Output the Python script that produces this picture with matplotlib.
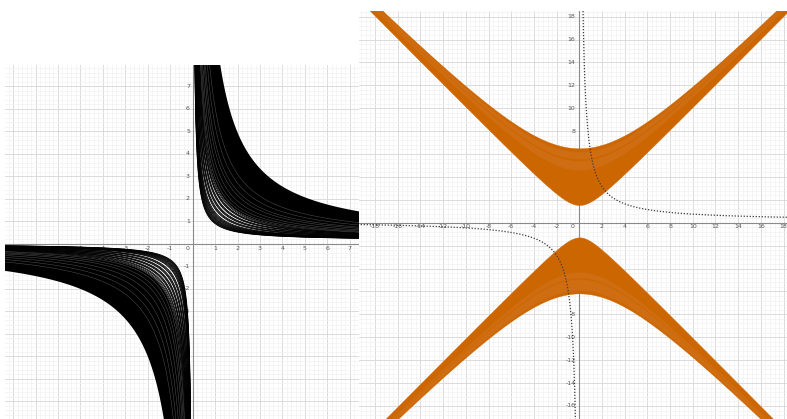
import numpy as np
import matplotlib.pyplot as plt
from matplotlib.ticker import MultipleLocator

W, H = 787, 419
fig = plt.figure(figsize=(W / 100, H / 100), dpi=100)

# ---------------- left graph: family y = k/x + shift ----------------
pos_strands = [0.75, 0.78, 0.81, 0.84, 0.88, 0.92, 0.96, 1.00, 1.05, 1.10, 1.15,
               1.20, 1.26, 1.40, 1.46, 1.52, 1.66, 1.72, 1.78, 1.94, 2.00,
               2.06, 2.22, 2.28, 2.34, 2.46, 2.55]
pos_solid = (2.6, 9.6)
pos_shades = [2.8, 3.1, 3.5, 4.0, 4.4, 5.1, 5.9]
pos_shift = 0.15

neg_strands = [0.70, 0.73, 0.76, 0.79, 0.83, 0.87, 0.91, 0.95, 1.00, 1.05, 1.10,
               1.24, 1.30, 1.36, 1.50, 1.56, 1.62, 1.77, 1.83, 1.89, 2.04, 2.10,
               2.16, 2.30, 2.38, 2.50, 2.60]
neg_solid = (2.65, 10.0)
neg_shades = [2.9, 3.3, 3.7, 4.3, 5.0, 5.8, 6.7]
neg_shift = 0.0

left_xticks = [-8, -7, -6, -5, -4, -3, -2, -1, 1, 2, 3, 4, 5, 6, 7]
left_yticks = [-7, -6, -5, -4, -3, -2, -1, 1, 2, 3, 4, 5, 6, 7]

# ---------------- right graph: y = ±sqrt(x^2 + b^2) bands ----------------
upper_band = (1.55, 6.5)
upper_light = [(4.6, 5.42), (5.58, 6.2)]
lower_band = (1.28, 6.17)
lower_light = [(4.3, 4.8), (4.92, 5.9)]
dotted_k = 6.0
dotted_shift = 0.15

right_xticks = [-18, -16, -14, -12, -10, -8, -6, -4, -2, 2, 4, 6, 8, 10, 12, 14, 16, 18]
right_yticks = [-16, -14, -12, -10, -8, -6, -4, -2, 2, 4, 6, 8, 10, 12, 14, 16, 18]

ORANGE = '#cc6600'
ORANGE_LIGHT = '#cf6d12'
LABEL = '#555555'
AXIS = '#8a8a8a'


def make_panel(px_l, px_t, px_r, px_b, xlim, ylim, major, minor):
    ax = fig.add_axes([px_l / W, 1 - px_b / H, (px_r - px_l) / W, (px_b - px_t) / H])
    ax.set_xlim(*xlim)
    ax.set_ylim(*ylim)
    for axis in (ax.xaxis, ax.yaxis):
        axis.set_major_locator(MultipleLocator(major))
        axis.set_minor_locator(MultipleLocator(minor))
    ax.grid(which='major', color='#d6d6d6', lw=0.6, zorder=0)
    ax.grid(which='minor', color='#f0f0f0', lw=0.45, zorder=0)
    ax.set_axisbelow(True)
    ax.tick_params(which='both', length=0, labelbottom=False, labelleft=False)
    for s in ax.spines.values():
        s.set_visible(False)
    ax.axhline(0, color=AXIS, lw=0.8, zorder=1)
    ax.axvline(0, color=AXIS, lw=0.8, zorder=1)
    return ax


# ---- left graph ----
axL = make_panel(5, 65, 359, 419, (-8.36, 7.41), (-7.78, 7.95), 1, 0.2)
fs = 4.5
for t in left_xticks:
    axL.text(t, -0.2, str(t), fontsize=fs, color=LABEL, ha='center', va='center', zorder=1.5)
for t in left_yticks:
    axL.text(-0.12, t, str(t), fontsize=fs, color=LABEL, ha='right', va='center', zorder=1.5)
axL.text(-0.22, -0.2, '0', fontsize=fs, color=LABEL, ha='center', va='center', zorder=1.5)

xp = np.geomspace(0.02, 7.41, 1500)
xn = -np.geomspace(0.02, 8.36, 1500)
axL.fill_between(xp, pos_solid[0] / xp + pos_shift, pos_solid[1] / xp + pos_shift,
                 color='black', lw=0, zorder=2)
axL.fill_between(xn, neg_solid[0] / xn + neg_shift, neg_solid[1] / xn + neg_shift,
                 color='black', lw=0, zorder=2)
for k in pos_strands:
    axL.plot(xp, k / xp + pos_shift, color='black', lw=0.6, zorder=3)
for k in neg_strands:
    axL.plot(xn, k / xn + neg_shift, color='black', lw=0.6, zorder=3)
for k in pos_shades:
    axL.plot(xp, k / xp + pos_shift, color='#505050', lw=0.35, zorder=3)
for k in neg_shades:
    axL.plot(xn, k / xn + neg_shift, color='#505050', lw=0.35, zorder=3)

# ---- right graph ----
axR = make_panel(359, 11, 787, 419, (-19.41, 18.3), (-17.14, 18.49), 2, 0.4)
for t in right_xticks:
    axR.text(t, -0.3, str(t), fontsize=fs, color=LABEL, ha='center', va='center', zorder=1.5)
for t in right_yticks:
    axR.text(-0.35, t, str(t), fontsize=fs, color=LABEL, ha='right', va='center', zorder=1.5)
axR.text(-0.4, -0.3, '0', fontsize=fs, color=LABEL, ha='right', va='center', zorder=1.5)

xr = np.linspace(-19.41, 18.3, 2000)


def branch(b, sign):
    return sign * np.sqrt(xr ** 2 + b ** 2)


axR.fill_between(xr, branch(upper_band[0], 1), branch(upper_band[1], 1),
                 color=ORANGE, lw=0.3, ec=ORANGE, zorder=2)
for lo, hi in upper_light:
    axR.fill_between(xr, branch(lo, 1), branch(hi, 1), color=ORANGE_LIGHT, lw=0, zorder=2.2)
axR.fill_between(xr, branch(lower_band[0], -1), branch(lower_band[1], -1),
                 color=ORANGE, lw=0.3, ec=ORANGE, zorder=2)
for lo, hi in lower_light:
    axR.fill_between(xr, branch(lo, -1), branch(hi, -1), color=ORANGE_LIGHT, lw=0, zorder=2.2)

xd_pos = np.geomspace(0.25, 18.3, 800)
xd_neg = -np.geomspace(0.3, 19.41, 800)
for xd in (xd_pos, xd_neg):
    axR.plot(xd, dotted_k / xd + dotted_shift, color='#3c3c3c', lw=0.9,
             ls=(0, (1, 1.4)), zorder=4)

fig.savefig('out.png', dpi=100, facecolor='white')
